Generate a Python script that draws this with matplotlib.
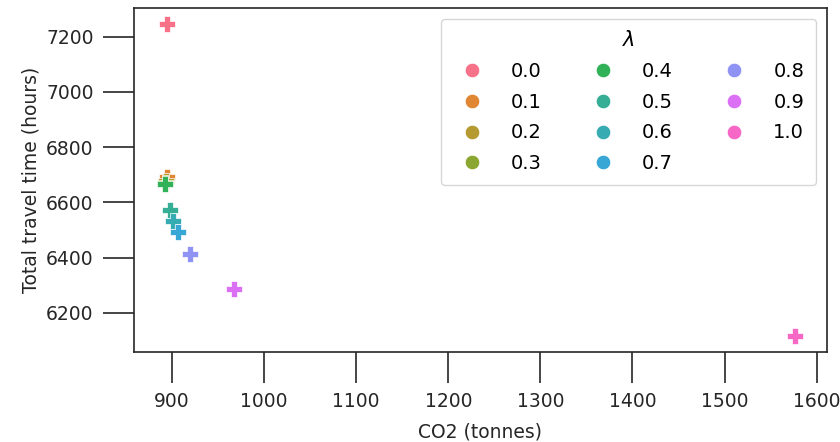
import matplotlib
matplotlib.use("Agg")
import matplotlib.pyplot as plt
from matplotlib.lines import Line2D
import seaborn as sns

# Trade-off between emissions and travel time for each weighting lambda
lambdas = ["0.0", "0.1", "0.2", "0.3", "0.4", "0.5", "0.6", "0.7", "0.8", "0.9", "1.0"]
co2_tonnes = [894.8, 895.0, 893.5, 893.0, 893.0, 897.6, 901.3, 906.7, 919.3, 967.5, 1576.5]
travel_hours = [7247, 6693, 6678, 6670, 6665, 6574, 6533, 6493, 6413, 6285, 6115]

colors = sns.color_palette("husl", len(lambdas))

fig = plt.figure(figsize=(8.4, 4.42), dpi=100)
ax = fig.add_axes([0.1595, 0.2036, 0.8245, 0.778])

for lam, x, y, c in zip(lambdas, co2_tonnes, travel_hours, colors):
    ax.scatter([x], [y], marker="P", s=140, color=c, edgecolors="white",
               linewidths=0.5, zorder=3)

ax.set_xticks([900, 1000, 1100, 1200, 1300, 1400, 1500, 1600])
ax.set_yticks([6200, 6400, 6600, 6800, 7000, 7200])
ax.tick_params(axis="both", which="major", length=22, width=1.2, pad=7,
               labelsize=13.5, colors="#262626", labelcolor="#262626")
for sp in ax.spines.values():
    sp.set_linewidth(1.2)
    sp.set_color("#262626")

ax.set_xlabel("CO2 (tonnes)", fontsize=13.5, color="#262626", labelpad=8)
ax.set_ylabel("Total travel time (hours)", fontsize=13.5, color="#262626")

handles = [Line2D([0], [0], marker="o", linestyle="", markersize=10.5,
                  markerfacecolor=c, markeredgecolor="white", markeredgewidth=0.6)
           for c in colors]
leg = ax.legend(handles, lambdas, title=r"$\lambda$", ncol=3, loc="upper right",
                fontsize=14, title_fontsize=15, handletextpad=1.0,
                columnspacing=2.15, labelspacing=0.6, borderpad=0.6,
                borderaxespad=0.55, frameon=True)
leg.get_frame().set_edgecolor("#cccccc")
leg.get_frame().set_linewidth(1.0)

fig.savefig("out.png", dpi=100)
